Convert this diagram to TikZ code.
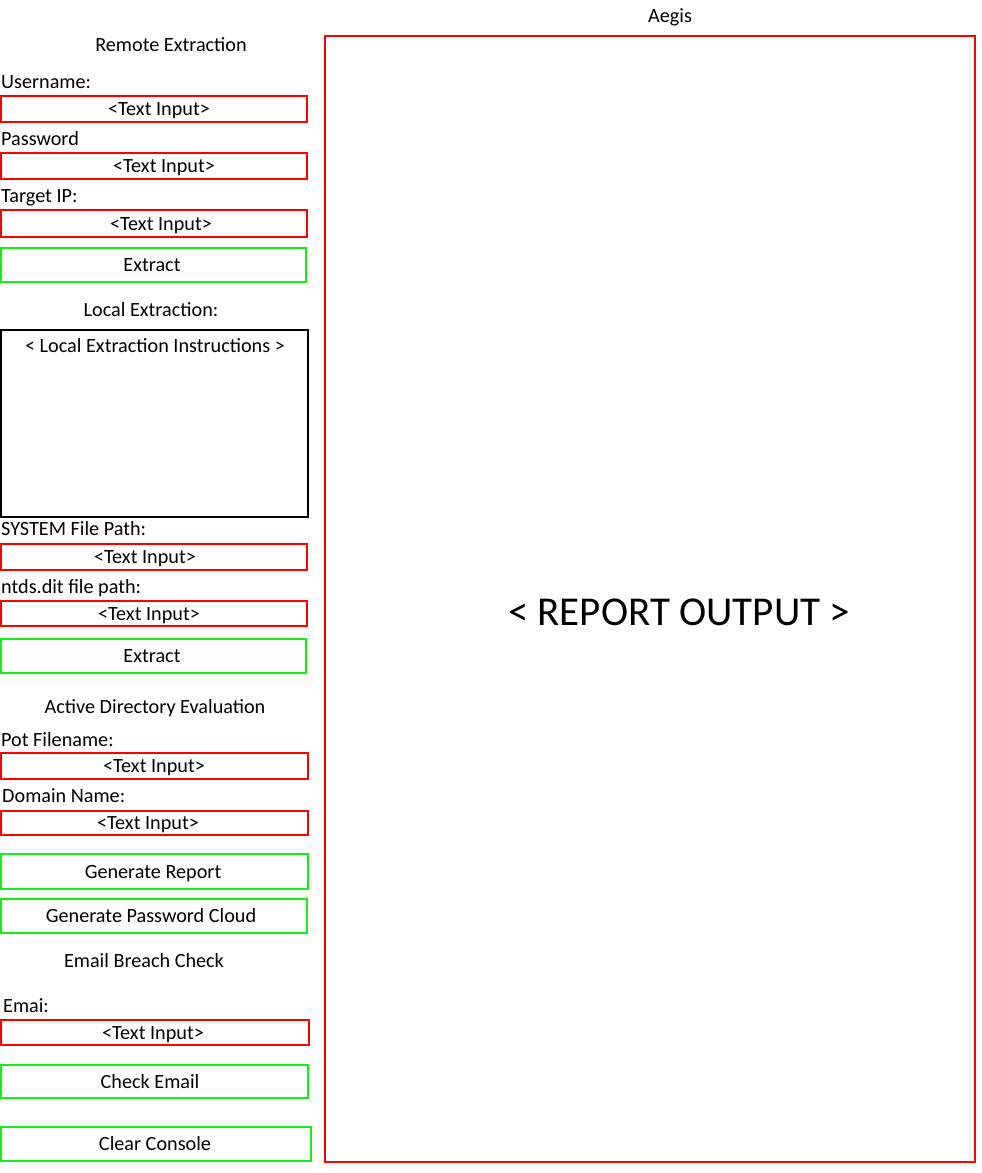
\documentclass[tikz,border=0pt]{standalone}
\usepackage{fontspec}
\setmainfont{Carlito}
\begin{document}
\begin{tikzpicture}[x=1pt,y=-1pt]
\definecolor{btngreen}{RGB}{20,240,20}
\tikzset{
  txt/.style={inner sep=0pt,anchor=base,yshift=-6.8pt,font=\fontsize{20.2}{24}\selectfont},
  lbl/.style={txt,anchor=base west},
  inbox/.style={draw=red,line width=2pt,inner sep=0pt},
  btnbox/.style={draw=btngreen,line width=2pt,inner sep=0pt},
  blkbox/.style={draw=black,line width=2pt,inner sep=0pt}}
\useasboundingbox (0,0) rectangle (982,1173);
% report area
\node[txt] (title) at (670,16) {Aegis};
\node[inbox,minimum width=650pt,minimum height=1126pt] (report) at (650,599) {};
\node[txt,yshift=-7pt,font=\fontsize{41}{48}\selectfont] (reporttxt) at (679,612) {< REPORT OUTPUT >};
% remote extraction
\node[txt] (hremote) at (171,45) {Remote Extraction};
\node[lbl] (luser) at (1,82) {Username:};
\node[inbox,minimum width=306pt,minimum height=26pt] (buser) at (154,109) {};
\node[txt] (tuser) at (159,109) {<Text Input>};
\node[lbl] (lpass) at (1,139) {Password};
\node[inbox,minimum width=306pt,minimum height=26pt] (bpass) at (154,166) {};
\node[txt] (tpass) at (164,166) {<Text Input>};
\node[lbl] (lip) at (1,196) {Target IP:};
\node[inbox,minimum width=306pt,minimum height=27pt] (bip) at (154,223.5) {};
\node[txt] (tip) at (161,223.5) {<Text Input>};
\node[btnbox,minimum width=305pt,minimum height=34pt] (bext1) at (153.5,265) {};
\node[txt] (text1) at (152,265) {Extract};
% local extraction
\node[txt] (hlocal) at (151,310) {Local Extraction:};
\node[blkbox,minimum width=307pt,minimum height=187pt] (binstr) at (154.5,423.5) {};
\node[txt] (tinstr) at (155,346) {< Local Extraction Instructions >};
\node[lbl] (lsys) at (1,529) {SYSTEM File Path:};
\node[inbox,minimum width=306pt,minimum height=26pt] (bsys) at (154,557) {};
\node[txt] (tsys) at (145,557) {<Text Input>};
\node[lbl] (lntds) at (1,587) {ntds.dit file path:};
\node[inbox,minimum width=306pt,minimum height=25pt] (bntds) at (154,613.5) {};
\node[txt] (tntds) at (149,613.5) {<Text Input>};
\node[btnbox,minimum width=305pt,minimum height=34pt] (bext2) at (153.5,656) {};
\node[txt] (text2) at (152,656) {Extract};
% AD evaluation
\node[txt] (had) at (155,707) {Active Directory Evaluation};
\node[lbl] (lpot) at (1,740) {Pot Filename:};
\node[inbox,minimum width=307pt,minimum height=26pt] (bpot) at (154.5,766) {};
\node[txt] (tpot) at (154,766) {<Text Input>};
\node[lbl] (ldom) at (2,796) {Domain Name:};
\node[inbox,minimum width=307pt,minimum height=24pt] (bdom) at (154.5,823) {};
\node[txt] (tdom) at (148,823) {<Text Input>};
\node[btnbox,minimum width=307pt,minimum height=35pt] (bgen) at (154.5,871.5) {};
\node[txt] (tgen) at (153,871.5) {Generate Report};
\node[btnbox,minimum width=306pt,minimum height=34pt] (bcloud) at (154,916) {};
\node[txt] (tcloud) at (151,916) {Generate Password Cloud};
% email breach
\node[txt] (hemail) at (144,961) {Email Breach Check};
\node[lbl] (lemail) at (3,1006) {Emai:};
\node[inbox,minimum width=308pt,minimum height=25pt] (bemail) at (155,1032.5) {};
\node[txt] (temail) at (153,1032.5) {<Text Input>};
\node[btnbox,minimum width=307pt,minimum height=33pt] (bcheck) at (154.5,1081.5) {};
\node[txt] (tcheck) at (150,1081.5) {Check Email};
\node[btnbox,minimum width=310pt,minimum height=34pt] (bclear) at (156,1144) {};
\node[txt] (tclear) at (155,1144) {Clear Console};
\end{tikzpicture}
\end{document}
